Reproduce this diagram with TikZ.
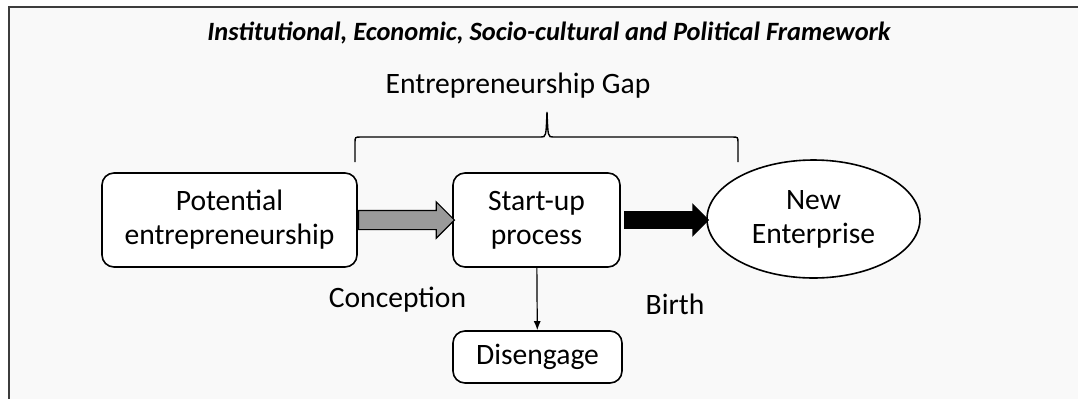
\documentclass[tikz,border=0pt]{standalone}
\usepackage{fontspec}
\setmainfont{Carlito}
\usetikzlibrary{arrows.meta,shapes.geometric,shapes.arrows}
\definecolor{framegray}{HTML}{3C3C3C}
\definecolor{paper}{HTML}{F9F9F9}
\definecolor{arrowgray}{HTML}{9A9A9A}

\begin{document}
\begin{tikzpicture}[
x=0.5pt, y=-0.5pt,
font=\fontsize{14.8}{17}\selectfont,
stage/.style={draw, rounded corners=6pt, fill=white, line width=0.8pt, align=center, inner sep=0pt},
blockarrow/.style={single arrow, single arrow tip angle=90, inner xsep=0pt, anchor=tail}]
    % Canvas and frame
    \useasboundingbox (0,0) rectangle (1078,398);
    \fill[white] (0,0) rectangle (1078,398);
    \fill[paper] (9,7) rectangle (1100,420);
    \draw[framegray, line width=1.2pt] (9,420) |- (1100,7);

    \node[font=\fontsize{13.2}{16}\selectfont\bfseries\itshape] (frame) at (549,33)
        {Institutional, Economic, Socio-cultural and Political Framework};

    % Stages
    \node[stage, minimum width=127.5pt, minimum height=47pt] (pot) at (229.5,220) {Potential\\entrepreneurship};
    \node[stage, minimum width=83.5pt, minimum height=47pt] (start) at (536.5,220) {Start-up\\process};
    \node[stage, minimum width=84.5pt, minimum height=26pt] (dis) at (537.5,357) {Disengage};
    \node[ellipse, draw, fill=white, line width=0.8pt, align=center, inner sep=0pt,
        minimum width=106.5pt, minimum height=59pt] (new) at (813.5,219) {New\\Enterprise};

    % Arrows
    \node[blockarrow, draw, line width=0.6pt, fill=arrowgray, minimum height=48pt,
        inner ysep=4.5pt, single arrow head extend=4.25pt] (conc) at (pot.east) {};
    \node[blockarrow, fill=black, minimum height=42.5pt, inner ysep=4.25pt,
        single arrow head extend=4pt, xshift=1.5pt] (born) at (start.east) {};
    \draw[-{Latex[length=4.5pt,width=3.5pt]}, line width=0.6pt] (start) -- (dis);

    % Labels
    \node (gap) at (518,86) {Entrepreneurship Gap};
    \node (conception) at (397.5,300) {Conception};
    \node (birth) at (675,304) {Birth};

    % Brace
    \draw[line width=0.7pt] (355,162) -- (355,143) .. controls (355,137) .. (361,137)
        -- (541,137) .. controls (546,137) .. (547,112) .. controls (548,137) .. (553,137)
        -- (732,137) .. controls (738,137) .. (738,143) -- (738,162);
\end{tikzpicture}
\end{document}
